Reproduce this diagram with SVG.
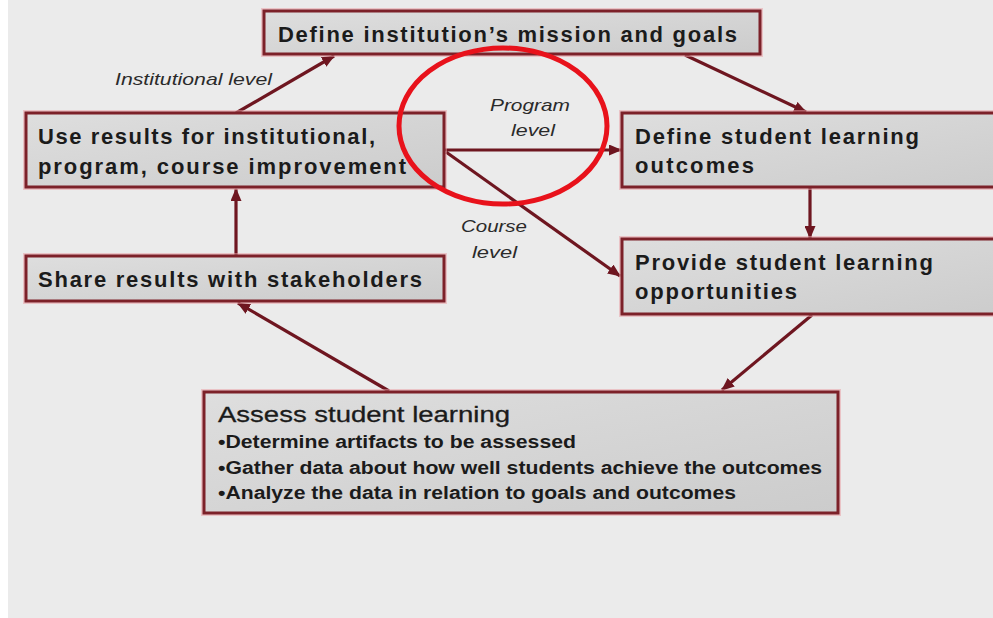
<svg xmlns="http://www.w3.org/2000/svg" width="993" height="618" viewBox="0 0 993 618">
  <defs>
    <linearGradient id="boxFill" x1="0" y1="0" x2="1" y2="1">
      <stop offset="0" stop-color="#dedede"/>
      <stop offset="1" stop-color="#cccccc"/>
    </linearGradient>
    <marker id="arrow" markerUnits="userSpaceOnUse" markerWidth="13" markerHeight="11" refX="12" refY="5.5" orient="auto">
      <path d="M0,0 L13,5.5 L0,11 Z" fill="#6e1620"/>
    </marker>
    <style>
      .box { fill: url(#boxFill); stroke: #7c2129; stroke-width: 3; }
      .halo { fill: none; stroke: #e9a3a8; stroke-width: 6; opacity: 0.55; }
      .t { font-family: "Liberation Sans", Arial, sans-serif; font-weight: bold; font-size: 22px; fill: #1b1b1b; }
      .h { font-family: "Liberation Sans", Arial, sans-serif; font-size: 22px; fill: #1b1b1b; stroke: #1b1b1b; stroke-width: 0.3; }
      .b { font-family: "Liberation Sans Narrow", "Liberation Sans", Arial, sans-serif; font-weight: bold; font-size: 18px; fill: #1b1b1b; }
      .lbl { font-family: "Liberation Sans", Arial, sans-serif; font-style: italic; font-size: 17px; fill: #2a2a2a; }
      .c { fill: none; stroke: #6e1620; stroke-width: 3.2; marker-end: url(#arrow); }
    </style>
  </defs>

  <!-- page -->
  <rect x="0" y="0" width="993" height="618" fill="#ffffff"/>
  <rect x="8" y="0" width="985" height="618" fill="#ebebeb"/>

  <!-- connectors -->
  <g id="connectors">
    <line class="c" x1="236" y1="113" x2="334" y2="56"/>
    <line class="c" x1="685" y1="55" x2="806" y2="112"/>
    <line class="c" x1="445" y1="150" x2="621" y2="150"/>
    <line class="c" x1="446" y1="152" x2="620" y2="276"/>
    <line class="c" x1="810" y1="188" x2="810" y2="238"/>
    <line class="c" x1="812" y1="315" x2="722" y2="390"/>
    <line class="c" x1="389" y1="391" x2="238" y2="303"/>
    <line class="c" x1="236" y1="256" x2="236" y2="189"/>
  </g>

  <!-- connector labels -->
  <g id="labels">
    <text class="lbl" x="115" y="85" textLength="157" lengthAdjust="spacingAndGlyphs">Institutional level</text>
    <text class="lbl" x="490" y="111" textLength="80" lengthAdjust="spacingAndGlyphs">Program</text>
    <text class="lbl" x="511" y="136" textLength="44" lengthAdjust="spacingAndGlyphs">level</text>
    <text class="lbl" x="461" y="232" textLength="66" lengthAdjust="spacingAndGlyphs">Course</text>
    <text class="lbl" x="472" y="258" textLength="45" lengthAdjust="spacingAndGlyphs">level</text>
  </g>

  <g id="mission">
    <rect class="halo" x="264" y="11" width="496" height="43"/>
    <rect class="box" x="264" y="11" width="496" height="43"/>
    <text class="t" x="278" y="42" textLength="459" lengthAdjust="spacing">Define institution’s mission and goals</text>
  </g>

  <g id="use-results">
    <rect class="halo" x="26" y="113" width="418" height="74"/>
    <rect class="box" x="26" y="113" width="418" height="74"/>
    <text class="t" x="38" y="144" textLength="337" lengthAdjust="spacing">Use results for institutional,</text>
    <text class="t" x="38" y="174" textLength="368" lengthAdjust="spacing">program, course improvement</text>
  </g>

  <g id="define-outcomes">
    <rect class="halo" x="622" y="113" width="380" height="74"/>
    <rect class="box" x="622" y="113" width="380" height="74"/>
    <text class="t" x="635" y="144" textLength="284" lengthAdjust="spacing">Define student learning</text>
    <text class="t" x="635" y="173" textLength="119" lengthAdjust="spacing">outcomes</text>
  </g>

  <g id="share-results">
    <rect class="halo" x="26" y="256" width="418" height="45"/>
    <rect class="box" x="26" y="256" width="418" height="45"/>
    <text class="t" x="38" y="287" textLength="384" lengthAdjust="spacing">Share results with stakeholders</text>
  </g>

  <g id="provide-opportunities">
    <rect class="halo" x="622" y="239" width="380" height="75"/>
    <rect class="box" x="622" y="239" width="380" height="75"/>
    <text class="t" x="635" y="270" textLength="298" lengthAdjust="spacing">Provide student learning</text>
    <text class="t" x="635" y="299" textLength="162" lengthAdjust="spacing">opportunities</text>
  </g>

  <g id="assess-learning">
    <rect class="halo" x="204" y="392" width="634" height="121"/>
    <rect class="box" x="204" y="392" width="634" height="121"/>
    <text class="h" x="218" y="422" textLength="292" lengthAdjust="spacingAndGlyphs">Assess student learning</text>
    <text class="b" x="218" y="448" textLength="358" lengthAdjust="spacingAndGlyphs">•Determine artifacts to be assessed</text>
    <text class="b" x="218" y="474" textLength="604" lengthAdjust="spacingAndGlyphs">•Gather data about how well students achieve the outcomes</text>
    <text class="b" x="218" y="499" textLength="518" lengthAdjust="spacingAndGlyphs">•Analyze the data in relation to goals and outcomes</text>
  </g>

  <!-- red highlight ring -->
  <ellipse cx="503" cy="126" rx="104" ry="78" fill="none" stroke="#e8121b" stroke-width="5"/>
</svg>
